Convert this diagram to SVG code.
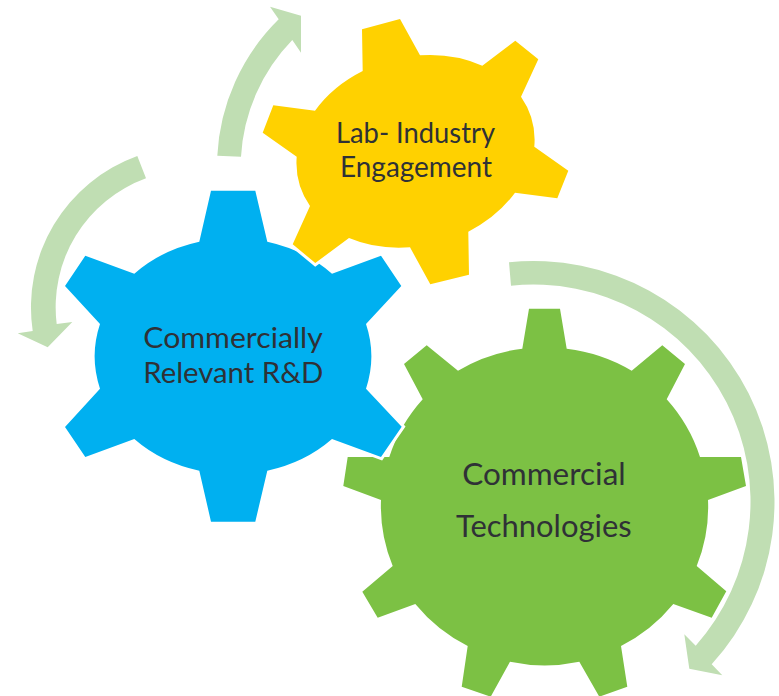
<svg xmlns="http://www.w3.org/2000/svg" width="779" height="696" viewBox="0 0 779 696">
<style>
.halo{stroke:#fff;stroke-width:6;paint-order:stroke;stroke-linejoin:miter}
.arrow{fill:#c0deb3}
.label{font-family:"Lato","Carlito","Noto Sans",sans-serif;fill:#2f3136;text-anchor:middle}
</style>
<rect width="779" height="696" fill="#fff"/>
<g id="connectors">
<path class="arrow" d="M217.3 155.7A206 206 0 0 1 278.7 19.3L270 6.7L301 15.7L301 52.7L292.3 40A182 182 0 0 0 241 156.7Z"/>
<path class="arrow" d="M137.3 156A161 161 0 0 0 32.7 331L17.7 333.3L47.7 347.3L72.3 322L56.7 324A137 137 0 0 1 146 178.3Z"/>
<path class="arrow" d="M509 262.3A241 241 0 0 1 711.7 664.3L722.3 675.3L689.3 668.7L684.3 634.3L695.7 645.7A217 217 0 0 0 511 285.7Z"/>
</g>
<g id="node-commercial-technologies">
<path fill="#7cc144" d="M529 308.7H560L566.7 348.7A163.5 160 0 0 1 631.7 370.7L662.3 345.3L685 364L666.7 399.3A163.5 160 0 0 1 700 457H741L746 486L708 500A163.5 160 0 0 1 696.7 566L726.3 591.3L711.7 617.7L673.3 604A163.5 160 0 0 1 621 646L627.3 686.7L599.3 696.7L579.3 661.7A163.5 160 0 0 1 510 661.7L490.7 696.7L461.7 686.7L467.7 646A163.5 160 0 0 1 415.3 604L377.7 617.7L362.3 591.7L392.7 566A163.5 160 0 0 1 381 500L343.3 486L347.7 457H389.3A163.5 160 0 0 1 422.7 399.3L404 364L426.7 345.3L458 370.7A163.5 160 0 0 1 522.3 348.7Z"/>
<text class="label" x="544" y="485" font-size="31" textLength="163.4" lengthAdjust="spacingAndGlyphs">Commercial</text>
<text class="label" x="543.8" y="537.3" font-size="31" textLength="175.7" lengthAdjust="spacingAndGlyphs">Technologies</text>
</g>
<g id="node-commercially-relevant">
<path class="halo" fill="#00b0f0" d="M211 190.7H255.3L267.3 241.7A138 118 0 0 1 332 273.7L381 255.7L401.3 286L366 324A138 118 0 0 1 366 388.7L401.7 426.7L381 457L332 439A138 118 0 0 1 267.3 470.7L255.3 521.7H211L199.3 470.7A138 118 0 0 1 134.3 439L85.3 457L65 427L100 388.7A138 118 0 0 1 100 324L65 286L85.3 255.7L134.3 273.7A138 118 0 0 1 199.3 241.7Z"/>
<text class="label" x="233" y="347.7" font-size="28" textLength="179.4" lengthAdjust="spacingAndGlyphs">Commercially</text>
<text class="label" x="233.3" y="382.7" font-size="28" textLength="180" lengthAdjust="spacingAndGlyphs">Relevant R&amp;D</text>
</g>
<g id="node-lab-industry">
<path class="halo" fill="#ffd100" d="M362 29.3L400 19L420 55.3A120.7 94.8 -15.4 0 1 482.3 65.7L515.3 40.7L538.3 59.3L521 96.7A120.7 94.8 -15.4 0 1 534.3 146.7L568.3 170.7L557.3 198.3L515 192.7A120.7 94.8 -15.4 0 1 468.3 231.7L469 274.7L430.3 284.3L410 247.3A120.7 94.8 -15.4 0 1 349 238L315.3 263L292.7 244.3L310 206A120.7 94.8 -15.4 0 1 296.7 156.7L262.7 132.7L273.3 105.3L315 110.7A120.7 94.8 -15.4 0 1 362.7 71Z"/>
<text class="label" x="415.5" y="143.3" font-size="28" textLength="159" lengthAdjust="spacingAndGlyphs">Lab- Industry</text>
<text class="label" x="416" y="176.7" font-size="28" textLength="152" lengthAdjust="spacingAndGlyphs">Engagement</text>
</g>
</svg>
